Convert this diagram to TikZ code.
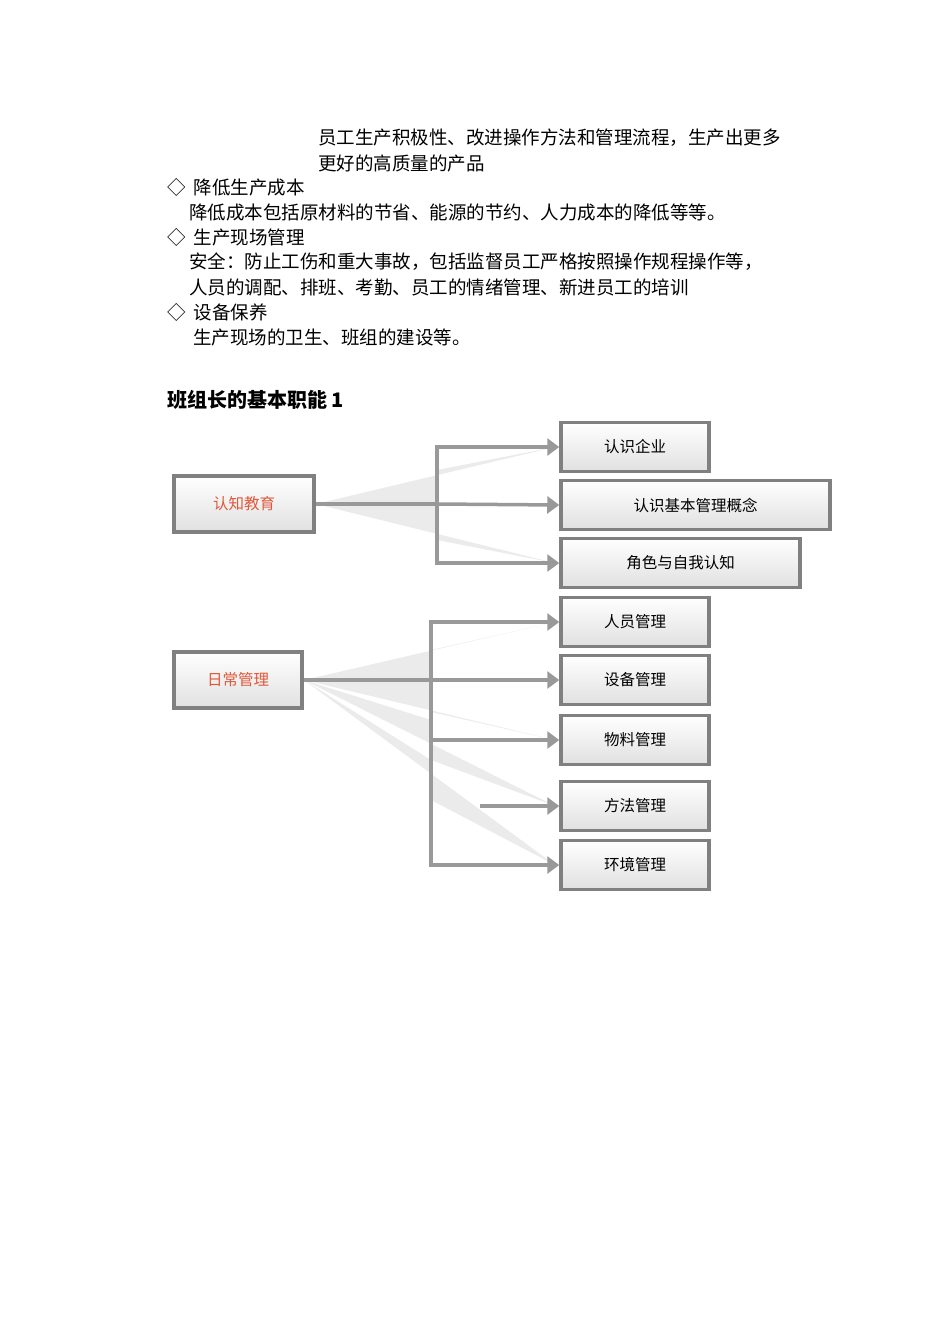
\documentclass[tikz,border=0pt]{standalone}
\usepackage{fontspec}
\setmainfont{Noto Sans CJK SC}
\usetikzlibrary{arrows.meta}
\definecolor{lg}{HTML}{999999}
\definecolor{bd}{HTML}{808080}
\definecolor{rt}{HTML}{E0583A}
\begin{document}
\begin{tikzpicture}[x=1pt,y=-1pt,
  box/.style={draw=bd,line width=3.5pt,top color=white,bottom color=black!12,minimum height=49pt,inner sep=0pt,font=\fontsize{15.5}{16}\selectfont},
  conn/.style={draw=lg,line width=3.5pt},
  arr/.style={conn,-{Triangle[length=12pt,width=17pt]}},
  wedge/.style={fill=black!8},
  txt/.style={anchor=west,inner sep=0pt,font=\fontsize{18.5}{20}\selectfont}]
\useasboundingbox (0,0) rectangle (950,1344);
% text
\node[txt] (t1) at (318,138) {员工生产积极性、改进操作方法和管理流程，生产出更多};
\node[txt] (t2) at (318,163) {更好的高质量的产品};
\node[txt] (t3) at (167,187) {◇\ \ 降低生产成本};
\node[txt] (t4) at (189,212) {降低成本包括原材料的节省、能源的节约、人力成本的降低等等。};
\node[txt] (t5) at (167,237) {◇\ \ 生产现场管理};
\node[txt] (t6) at (189,262) {安全：防止工伤和重大事故，包括监督员工严格按照操作规程操作等，};
\node[txt] (t7) at (189,287) {人员的调配、排班、考勤、员工的情绪管理、新进员工的培训};
\node[txt] (t8) at (167,312) {◇\ \ 设备保养};
\node[txt] (t9) at (193,337) {生产现场的卫生、班组的建设等。};
\node[txt,font=\fontsize{20}{22}\selectfont\bfseries] (h) at (167,400) {班组长的基本职能 1};
% wedges
\fill[wedge] (316,504) -- (555,447) -- (437,470) -- (437,504) -- cycle;
\fill[wedge] (316,504) -- (555,563) -- (437,540) -- (437,504) -- cycle;
\fill[wedge] (304,680) -- (555,622) -- (431,650) -- (431,680) -- cycle;
\fill[wedge] (304,680) -- (555,740) -- (431,712) -- (431,680) -- cycle;
\fill[wedge] (304,680) -- (555,806) -- (431,760) -- (431,720) -- cycle;
\fill[wedge] (304,680) -- (555,865) -- (431,800) -- (431,760) -- cycle;
% boxes
\node[box,minimum width=140pt,text=rt] (a) at (244,504) {认知教育};
\node[box,minimum width=148pt] (a1) at (635,447) {认识企业};
\node[box,minimum width=269pt] (a2) at (695.5,505) {认识基本管理概念};
\node[box,minimum width=239pt] (a3) at (680.5,563) {角色与自我认知};
\node[box,minimum width=128pt,minimum height=56pt,text=rt] (b) at (238,680) {日常管理};
\node[box,minimum width=148pt] (b1) at (635,622) {人员管理};
\node[box,minimum width=148pt] (b2) at (635,680) {设备管理};
\node[box,minimum width=148pt] (b3) at (635,740) {物料管理};
\node[box,minimum width=148pt] (b4) at (635,806) {方法管理};
\node[box,minimum width=148pt] (b5) at (635,865) {环境管理};
\node[box,minimum width=140pt,minimum height=56pt,text=rt] at (244,504) {认知教育};
% connectors
\coordinate (ja) at (437,504);
\coordinate (jb) at (431,680);
\draw[conn] (a.east) -- (ja);
\draw[arr] (ja) |- (a1.west);
\draw[arr] (ja) -- (a2.west);
\draw[arr] (ja) |- (a3.west);
\draw[conn] (b.east) -- (jb);
\draw[arr] (jb) |- (b1.west);
\draw[arr] (jb) -- (b2.west);
\draw[arr] (jb) |- (b3.west);
\coordinate (m4) at (480,806);
\draw[arr] (m4) -- (b4.west);
\draw[arr] (jb) |- (b5.west);
\end{tikzpicture}
\end{document}
